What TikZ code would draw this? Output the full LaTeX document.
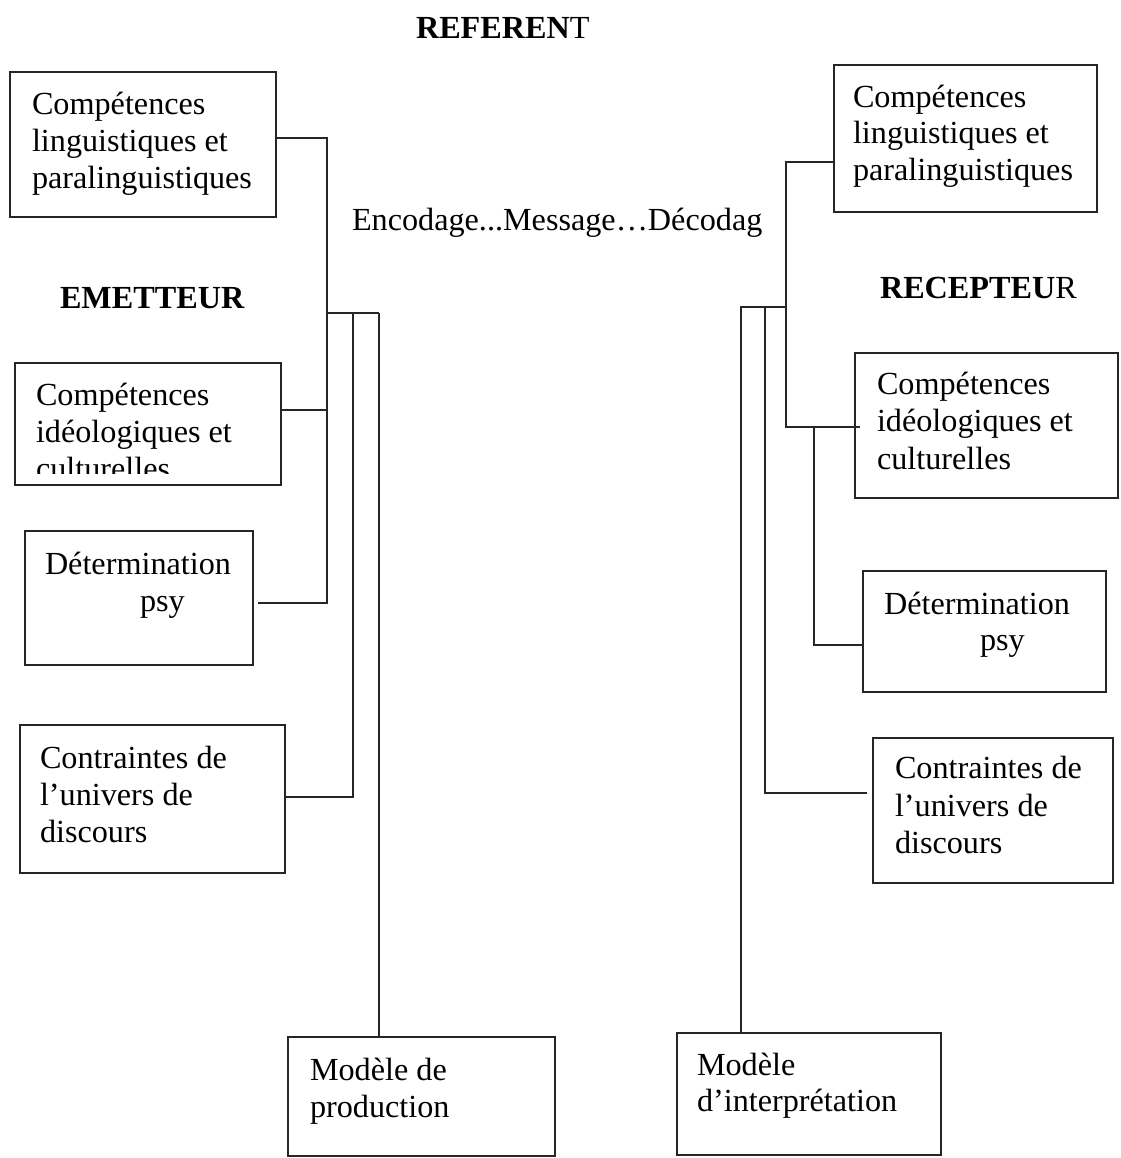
\documentclass[tikz,border=0pt]{standalone}
\usepackage{fontspec}
\setmainfont{Liberation Serif}
\begin{document}
\begin{tikzpicture}[x=1pt,y=-1pt,
  box/.style={draw=black!85, line width=1.8pt, rectangle, inner sep=0pt, outer sep=0pt, anchor=north west},
  txt/.style={anchor=base west, inner sep=0pt, outer sep=0pt, font=\fontsize{32.2}{37}\selectfont},
  link/.style={draw=black!85, line width=1.8pt}]
\useasboundingbox (0,0) rectangle (1120,1158);

% ---- titles ----
\node[txt] (referent) at (416,39) {\textbf{REFEREN}T};
\node[txt] (emetteur) at (60,308) {\textbf{EMETTEUR}};
\node[txt] (recepteur) at (880,298) {\textbf{RECEPTEU}R};
\node[txt] (flux) at (352,231) {Encodage...Message\ldots Décodag};

% ---- sender side boxes ----
\node[box, minimum width=266pt, minimum height=145pt] (L1) at (10,72) {};
\node[txt] (L1a) at (32,115) {Compétences};
\node[txt] (L1b) at (32,152) {linguistiques et};
\node[txt] (L1c) at (32,189) {paralinguistiques};

\node[box, minimum width=266pt, minimum height=122pt] (L2) at (15,363) {};
\begin{scope}
  \clip (15,363) rectangle (281,473);
  \node[txt] (L2a) at (36,405) {Compétences};
  \node[txt] (L2b) at (36,442) {idéologiques et};
  \node[txt] (L2c) at (36,479) {culturelles};
\end{scope}

\node[box, minimum width=228pt, minimum height=134pt] (L3) at (25,531) {};
\node[txt] (L3a) at (45,574) {Détermination};
\node[txt] (L3b) at (140,611) {psy};

\node[box, minimum width=265pt, minimum height=148pt] (L4) at (20,725) {};
\node[txt] (L4a) at (40,768) {Contraintes de};
\node[txt] (L4b) at (40,805) {l’univers de};
\node[txt] (L4c) at (40,842) {discours};

\node[box, minimum width=267pt, minimum height=119pt] (L5) at (288,1037) {};
\node[txt] (L5a) at (310,1080) {Modèle de};
\node[txt] (L5b) at (310,1117) {production};

% ---- receiver side boxes ----
\node[box, minimum width=263pt, minimum height=147pt] (R1) at (834,65) {};
\node[txt] (R1a) at (853,108) {Compétences};
\node[txt] (R1b) at (853,144) {linguistiques et};
\node[txt] (R1c) at (853,181) {paralinguistiques};

\node[box, minimum width=263pt, minimum height=145pt] (R2) at (855,353) {};
\node[txt] (R2a) at (877,394) {Compétences};
\node[txt] (R2b) at (877,431) {idéologiques et};
\node[txt] (R2c) at (877,469) {culturelles};

\node[box, minimum width=243pt, minimum height=121pt] (R3) at (863,571) {};
\node[txt] (R3a) at (884,614) {Détermination};
\node[txt] (R3b) at (980,650) {psy};

\node[box, minimum width=240pt, minimum height=145pt] (R4) at (873,738) {};
\node[txt] (R4a) at (895,778) {Contraintes de};
\node[txt] (R4b) at (895,816) {l’univers de};
\node[txt] (R4c) at (895,853) {discours};

\node[box, minimum width=264pt, minimum height=122pt] (R5) at (677,1033) {};
\node[txt] (R5a) at (697,1075) {Modèle};
\node[txt] (R5b) at (697,1111) {d’interprétation};

% ---- sender connectors ----
\coordinate (jL) at (327,313);
\draw[link] (L1.east |- 0,138) -- (327,138) -- (327,603) -- ([xshift=5pt]L3.east |- 0,603);
\draw[link] (L2.east |- 0,410) -- (327,410);
\draw[link] (jL) -- (379,313);
\draw[link] (353,313) -- (353,797) -- (L4.east |- 0,797);
\draw[link] (379,313) -- (379,0 |- L5.north);

% ---- receiver connectors ----
\coordinate (jR) at (786,307);
\draw[link] (R1.west |- 0,162) -- (786,162) -- (786,427) -- ([xshift=5pt]R2.west |- 0,427);
\draw[link] (jR) -- (741,307) -- (741,0 |- R5.north);
\draw[link] (765,307) -- (765,793) -- ([xshift=-6pt]R4.west |- 0,793);
\draw[link] (814,427) -- (814,645) -- (R3.west |- 0,645);
\end{tikzpicture}
\end{document}
